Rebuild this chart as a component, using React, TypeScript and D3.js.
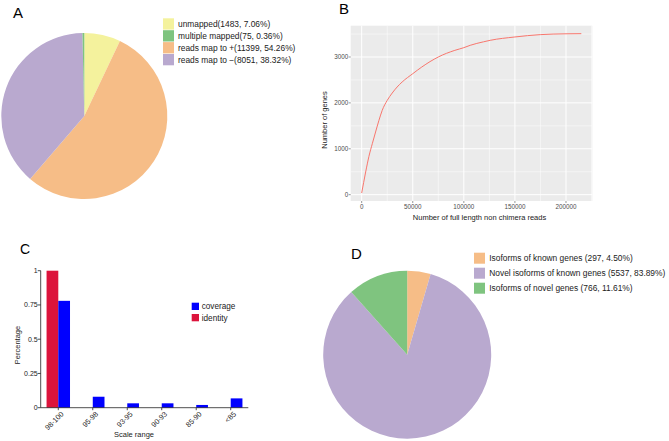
import React from 'react';
import * as d3 from 'd3';

// ---------- Panel A data ----------
const A_LABELS = [
  'unmapped(1483, 7.06%)',
  'multiple mapped(75, 0.36%)',
  'reads map to +(11399, 54.26%)',
  'reads map to \u2212(8051, 38.32%)',
];
const A_VALUES = [1483, 75, 11399, 8051];
const A_COLORS = ['#f4f29d', '#7fc47f', '#f6bd87', '#b9a9cf'];
const A_PIE_ORDER = [0, 2, 3, 1];

// ---------- Panel B data ----------
const B_X = [0, 3900, 7100, 10400, 13600, 16900, 20100, 25000, 29900, 34700, 39600, 50000, 58800, 75000, 91200, 100000, 106200, 119200, 125800, 150000, 174800, 200000, 215000];
const B_Y = [36, 494, 835, 1111, 1365, 1620, 1837, 2055, 2215, 2346, 2455, 2636, 2781, 3000, 3145, 3203, 3254, 3330, 3363, 3436, 3487, 3505, 3508];
const B_X_TICKS = [0, 50000, 100000, 150000, 200000];
const B_Y_TICKS = [0, 1000, 2000, 3000];

// ---------- Panel C data ----------
const C_CATEGORIES = ['98-100', '95-98', '93-95', '90-93', '85-90', '<85'];
const C_IDENTITY = [1, 0, 0, 0, 0, 0];
const C_COVERAGE = [0.78, 0.08, 0.032, 0.032, 0.02, 0.068];
const C_Y_TICKS = [0, 0.25, 0.5, 0.75, 1];
const C_Y_TICK_LABELS = ['0', '0.25', '0.5', '0.75', '1'];
const C_SERIES = ['identity', 'coverage'];
const C_COLORS = ['#dc143c', '#0000ff'];

// ---------- Panel D data ----------
const D_LABELS = [
  'Isoforms of known genes (297, 4.50%)',
  'Novel isoforms of known genes (5537, 83.89%)',
  'Isoforms of novel genes (766, 11.61%)',
];
const D_VALUES = [297, 5537, 766];
const D_COLORS = ['#f6bd87', '#b9a9cf', '#7fc47f'];

const FONT = 'Liberation Sans, Arial, Helvetica, sans-serif';

function PanelA() {
  const cx = 84.3, cy = 116, r = 83;
  const items = A_PIE_ORDER.map((i) => ({ v: A_VALUES[i], c: A_COLORS[i] }));
  const pie = d3.pie<any>().sort(null).value((d: any) => d.v);
  const arc = d3.arc<any>().innerRadius(0).outerRadius(r);
  const arcs = pie(items);
  return (
    <g>
      <text x={13} y={18} fontSize={15} fontFamily={FONT}>A</text>
      <g transform={`translate(${cx},${cy})`}>
        {arcs.map((a, i) => (
          <path key={i} d={arc(a) as string} fill={a.data.c} />
        ))}
      </g>
      {A_LABELS.map((l, i) => (
        <g key={i} transform={`translate(163,${18.3 + i * 11.9})`}>
          <rect width={11} height={11.3} fill={A_COLORS[i]} />
          <text x={15} y={5.8} dy="0.35em" fontSize={8.4} fontFamily={FONT} fill="#222">{l}</text>
        </g>
      ))}
    </g>
  );
}

function PanelB() {
  const left = 350.7, right = 592.3, top = 25.7, bottom = 201;
  const xExt = d3.extent(B_X) as [number, number];
  const yExt = d3.extent(B_Y) as [number, number];
  const xPad = (xExt[1] - xExt[0]) * 0.05;
  const yPad = (yExt[1] - yExt[0]) * 0.05;
  const x = d3.scaleLinear().domain([xExt[0] - xPad, xExt[1] + xPad]).range([left, right]);
  const y = d3.scaleLinear().domain([yExt[0] - yPad, yExt[1] + yPad]).range([bottom, top]);
  const xMinor = [25000, 75000, 125000, 175000, 225000];
  const yMinor = [500, 1500, 2500, 3500];
  const line = d3.line<number>()
    .x((_, i) => x(B_X[i]))
    .y((d) => y(d))
    .curve(d3.curveMonotoneX);
  return (
    <g>
      <text x={339} y={13.5} fontSize={15} fontFamily={FONT}>B</text>
      <rect x={left} y={top} width={right - left} height={bottom - top} fill="#ebebeb" />
      {xMinor.filter((v) => x(v) < right).map((v) => (
        <line key={'xm' + v} x1={x(v)} x2={x(v)} y1={top} y2={bottom} stroke="#fff" strokeWidth={0.5} />
      ))}
      {yMinor.map((v) => (
        <line key={'ym' + v} x1={left} x2={right} y1={y(v)} y2={y(v)} stroke="#fff" strokeWidth={0.5} />
      ))}
      {B_X_TICKS.map((v) => (
        <line key={'xM' + v} x1={x(v)} x2={x(v)} y1={top} y2={bottom} stroke="#fff" strokeWidth={1} />
      ))}
      {B_Y_TICKS.map((v) => (
        <line key={'yM' + v} x1={left} x2={right} y1={y(v)} y2={y(v)} stroke="#fff" strokeWidth={1} />
      ))}
      <path d={line(B_Y) as string} fill="none" stroke="#f8766d" strokeWidth={1} />
      {B_X_TICKS.map((v) => (
        <g key={'xt' + v}>
          <line x1={x(v)} x2={x(v)} y1={bottom} y2={bottom + 2} stroke="#333" strokeWidth={0.5} />
          <text x={x(v)} y={bottom + 3} dy="0.75em" textAnchor="middle" fontSize={6.3} fontFamily={FONT} fill="#4d4d4d">{v}</text>
        </g>
      ))}
      {B_Y_TICKS.map((v) => (
        <g key={'yt' + v}>
          <line x1={left - 2} x2={left} y1={y(v)} y2={y(v)} stroke="#333" strokeWidth={0.5} />
          <text x={left - 2.5} y={y(v)} dy="0.35em" textAnchor="end" fontSize={6.3} fontFamily={FONT} fill="#4d4d4d">{v}</text>
        </g>
      ))}
      <text x={(left + right) / 2 + 8} y={219.5} textAnchor="middle" fontSize={7.5} fontFamily={FONT} fill="#222">
        Number of full length non chimera reads
      </text>
      <text transform={`translate(327,120) rotate(-90)`} textAnchor="middle" fontSize={7.5} fontFamily={FONT} fill="#222">
        Number of genes
      </text>
    </g>
  );
}

function PanelC() {
  const left = 40.7, right = 248.3, top = 270.7, bottom = 407.7;
  const x0 = d3.scaleBand().domain(C_CATEGORIES).range([left, right]).paddingInner(0.32).paddingOuter(0.17);
  const x1 = d3.scaleBand().domain(C_SERIES).range([0, x0.bandwidth()]);
  const y = d3.scaleLinear().domain([0, 1]).range([bottom, top]);
  const seriesVals = [C_IDENTITY, C_COVERAGE];
  return (
    <g>
      <text x={20} y={253.5} fontSize={14} fontFamily={FONT}>C</text>
      {C_CATEGORIES.map((c, ci) => (
        <g key={c}>
          {C_SERIES.map((s, si) => {
            const v = seriesVals[si][ci];
            if (!v) return null;
            return (
              <rect key={s} x={(x0(c) as number) + (x1(s) as number)} y={y(v)} width={x1.bandwidth()} height={bottom - y(v)} fill={C_COLORS[si]} />
            );
          })}
        </g>
      ))}
      <line x1={left} x2={left} y1={top} y2={bottom} stroke="#222" strokeWidth={0.8} />
      <line x1={left} x2={right} y1={bottom} y2={bottom} stroke="#222" strokeWidth={0.8} />
      {C_Y_TICKS.map((v, i) => (
        <g key={'cy' + v}>
          <line x1={left - 3} x2={left} y1={y(v)} y2={y(v)} stroke="#222" strokeWidth={0.8} />
          <text x={left - 3} y={y(v)} dy="0.35em" textAnchor="end" fontSize={7} fontFamily={FONT} fill="#222">{C_Y_TICK_LABELS[i]}</text>
        </g>
      ))}
      {C_CATEGORIES.map((c) => {
        const cx = (x0(c) as number) + x0.bandwidth() / 2;
        return (
          <g key={'cx' + c}>
            <line x1={cx} x2={cx} y1={bottom} y2={bottom + 2.5} stroke="#222" strokeWidth={0.8} />
            <text transform={`translate(${cx + 4},${bottom + 5}) rotate(-45)`} dy="0.35em" textAnchor="end" fontSize={7.3} fontFamily={FONT} fill="#222">{c}</text>
          </g>
        );
      })}
      <text x={134} y={436.5} textAnchor="middle" fontSize={7.5} fontFamily={FONT} fill="#222">Scale range</text>
      <text transform="translate(19.5,345) rotate(-90)" textAnchor="middle" fontSize={7.5} fontFamily={FONT} fill="#222">Percentage</text>
      {[1, 0].map((si, k) => (
        <g key={'leg' + si} transform={`translate(191.7,${302.7 + k * 11.3})`}>
          <rect width={7.3} height={7.3} fill={C_COLORS[si]} />
          <text x={10} y={3.7} dy="0.35em" fontSize={8.2} fontFamily={FONT} fill="#222">{C_SERIES[si]}</text>
        </g>
      ))}
    </g>
  );
}

function PanelD() {
  const cx = 407.2, cy = 354.7, r = 84;
  const items = D_VALUES.map((v, i) => ({ v, c: D_COLORS[i] }));
  const pie = d3.pie<any>().sort(null).value((d: any) => d.v);
  const arc = d3.arc<any>().innerRadius(0).outerRadius(r);
  const arcs = pie(items);
  return (
    <g>
      <text x={351} y={258.5} fontSize={15} fontFamily={FONT}>D</text>
      <g transform={`translate(${cx},${cy})`}>
        {arcs.map((a, i) => (
          <path key={i} d={arc(a) as string} fill={a.data.c} />
        ))}
      </g>
      {D_LABELS.map((l, i) => (
        <g key={i} transform={`translate(474,${252.7 + i * 15})`}>
          <rect width={11} height={11} fill={D_COLORS[i]} />
          <text x={15.3} y={5.5} dy="0.35em" fontSize={8.4} fontFamily={FONT} fill="#222">{l}</text>
        </g>
      ))}
    </g>
  );
}

export default function App() {
  return (
    <svg width={669} height={441} style={{ position: 'absolute', left: 0, top: 0, background: '#fff' }}>
      <rect width={669} height={441} fill="#fff" />
      <PanelA />
      <PanelB />
      <PanelC />
      <PanelD />
    </svg>
  );
}
